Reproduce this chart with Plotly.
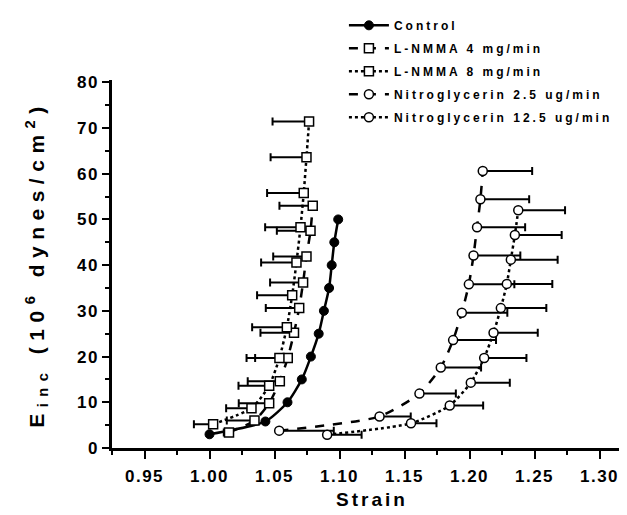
import plotly.graph_objects as go

# ---- data ----
control_x = [1.000, 1.043, 1.060, 1.071, 1.078, 1.084, 1.088, 1.092, 1.094, 1.096, 1.099]
control_y = [3.0, 5.8, 10.0, 15.0, 20.0, 25.0, 30.0, 35.0, 40.0, 45.0, 50.0]

lnmma4_x = [1.015, 1.0346, 1.0459, 1.0541, 1.0602, 1.065, 1.069, 1.072, 1.0746, 1.0777, 1.0794]
lnmma4_y = [3.4, 6.0, 9.8, 14.6, 19.7, 25.2, 30.6, 36.2, 41.9, 47.5, 53.0]
lnmma4_err = [0.004, 0.0213, 0.0234, 0.0247, 0.0251, 0.0258, 0.0257, 0.0254, 0.0256, 0.0259, 0.0256]

lnmma8_x = [1.0028, 1.0323, 1.0459, 1.0538, 1.0595, 1.0636, 1.0669, 1.0700, 1.0725, 1.0746, 1.0766]
lnmma8_y = [5.2, 8.7, 13.6, 19.7, 26.4, 33.4, 40.6, 48.3, 55.8, 63.6, 71.4]
lnmma8_err = [0.0148, 0.0195, 0.0236, 0.0253, 0.0267, 0.027, 0.0272, 0.0272, 0.0282, 0.0276, 0.0281]

ntg25_x = [1.0536, 1.1308, 1.1615, 1.1779, 1.1874, 1.1941, 1.1995, 1.2031, 1.2058, 1.2084, 1.2102]
ntg25_y = [3.8, 6.9, 11.9, 17.6, 23.6, 29.6, 35.8, 42.1, 48.3, 54.4, 60.6]
ntg25_err = [0.042, 0.024, 0.028, 0.031, 0.033, 0.035, 0.035, 0.036, 0.037, 0.0375, 0.038]

ntg125_x = [1.0905, 1.155, 1.1848, 1.201, 1.2113, 1.2185, 1.2241, 1.2287, 1.2318, 1.2349, 1.2375]
ntg125_y = [2.9, 5.4, 9.3, 14.3, 19.7, 25.2, 30.6, 35.9, 41.2, 46.6, 52.0]
ntg125_err = [0.0265, 0.0196, 0.0257, 0.030, 0.0325, 0.034, 0.035, 0.035, 0.036, 0.036, 0.036]

x_ticks = [0.95, 1.00, 1.05, 1.10, 1.15, 1.20, 1.25, 1.30]
y_ticks = [0, 10, 20, 30, 40, 50, 60, 70, 80]

FONT = "Liberation Sans"
BLACK = "black"

fig = go.Figure()

def err(vals, side):
    zeros = [0] * len(vals)
    if side == "left":
        plus, minus = zeros, vals
    else:
        plus, minus = vals, zeros
    return dict(type="data", symmetric=False, array=plus, arrayminus=minus,
                color=BLACK, thickness=2, width=4)

fig.add_trace(go.Scatter(
    x=control_x, y=control_y, mode="lines+markers", name="Control",
    line=dict(color=BLACK, width=2.5, shape="spline", smoothing=0.6),
    marker=dict(symbol="circle", size=9, color=BLACK, line=dict(color=BLACK, width=1)),
    legendgroup="a"))

fig.add_trace(go.Scatter(
    x=lnmma4_x, y=lnmma4_y, mode="lines+markers", name="L-NMMA 4 mg/min",
    line=dict(color=BLACK, width=2.5, dash="dash", shape="spline", smoothing=0.6),
    marker=dict(symbol="square", size=9, color="white", line=dict(color=BLACK, width=1.5)),
    error_x=err(lnmma4_err, "left"), legendgroup="b"))

fig.add_trace(go.Scatter(
    x=lnmma8_x, y=lnmma8_y, mode="lines+markers", name="L-NMMA 8 mg/min",
    line=dict(color=BLACK, width=2.5, dash="dot", shape="spline", smoothing=0.6),
    marker=dict(symbol="square", size=9, color="white", line=dict(color=BLACK, width=1.5)),
    error_x=err(lnmma8_err, "left"), legendgroup="c"))

fig.add_trace(go.Scatter(
    x=ntg25_x, y=ntg25_y, mode="lines+markers", name="Nitroglycerin 2.5 ug/min",
    line=dict(color=BLACK, width=2.5, dash="dash", shape="spline", smoothing=0.6),
    marker=dict(symbol="circle", size=9, color="white", line=dict(color=BLACK, width=1.5)),
    error_x=err(ntg25_err, "right"), legendgroup="d"))

fig.add_trace(go.Scatter(
    x=ntg125_x, y=ntg125_y, mode="lines+markers", name="Nitroglycerin 12.5 ug/min",
    line=dict(color=BLACK, width=2.5, dash="dot", shape="spline", smoothing=0.6),
    marker=dict(symbol="circle", size=9, color="white", line=dict(color=BLACK, width=1.5)),
    error_x=err(ntg125_err, "right"), legendgroup="e"))

fig.update_layout(
    width=627, height=515,
    margin=dict(l=104, r=3, t=69, b=75),
    paper_bgcolor="white", plot_bgcolor="white",
    font=dict(family=FONT, color=BLACK),
    showlegend=True,
    legend=dict(
        x=0.446, y=1.188, xanchor="left", yanchor="top",
        bgcolor="rgba(0,0,0,0)", borderwidth=0,
        font=dict(family=FONT, size=12, weight="bold", color=BLACK),
        tracegroupgap=4, itemwidth=40,
    ),
    xaxis=dict(
        range=[0.925, 1.325], tickvals=x_ticks,
        ticktext=[f"{v:.2f}" for v in x_ticks],
        showgrid=False, zeroline=False,
        showline=True, linecolor=BLACK, linewidth=2.5,
        ticks="outside", ticklen=8, tickwidth=2, tickcolor=BLACK,
        minor=dict(dtick=0.025, tick0=0.95, ticks="outside", ticklen=4, tickwidth=2, tickcolor=BLACK),
        tickfont=dict(family=FONT, size=17, weight="bold", color=BLACK),
        ticklabelstandoff=3,
        title=dict(text="Strain", font=dict(family=FONT, size=19, weight="bold", color=BLACK), standoff=8),
    ),
    yaxis=dict(
        range=[0, 80.5], tickvals=y_ticks,
        showgrid=False, zeroline=False,
        showline=True, linecolor=BLACK, linewidth=2.5,
        ticks="outside", ticklen=7, tickwidth=2, tickcolor=BLACK,
        minor=dict(dtick=5, tick0=0, ticks="outside", ticklen=4, tickwidth=2, tickcolor=BLACK),
        tickfont=dict(family=FONT, size=17, weight="bold", color=BLACK),
        title=dict(text="E<sub>inc</sub> (10<sup>6</sup> dynes/cm<sup>2</sup>)",
                   font=dict(family=FONT, size=21, weight="bold", color=BLACK), standoff=30),
    ),
)

# letter spacing like the reference's widely tracked bold type
post = """
var gd = document.getElementById('{plot_id}');
function sp() {
  gd.querySelectorAll('.legend .scrollbox, .legend').forEach(function(e){ e.removeAttribute('clip-path'); });
  gd.querySelectorAll('text.legendtext').forEach(function(t){ t.style.letterSpacing = '3px'; });
  gd.querySelectorAll('g.xtick text, g.ytick text').forEach(function(t){ t.style.letterSpacing = '1.5px'; });
  gd.querySelectorAll('text.xtitle').forEach(function(t){ t.style.letterSpacing = '3px'; });
  gd.querySelectorAll('text.ytitle').forEach(function(t){ t.style.letterSpacing = '6.5px'; });
}
sp();
gd.on('plotly_afterplot', sp);
"""

fig.write_html("out.html", post_script=post)
